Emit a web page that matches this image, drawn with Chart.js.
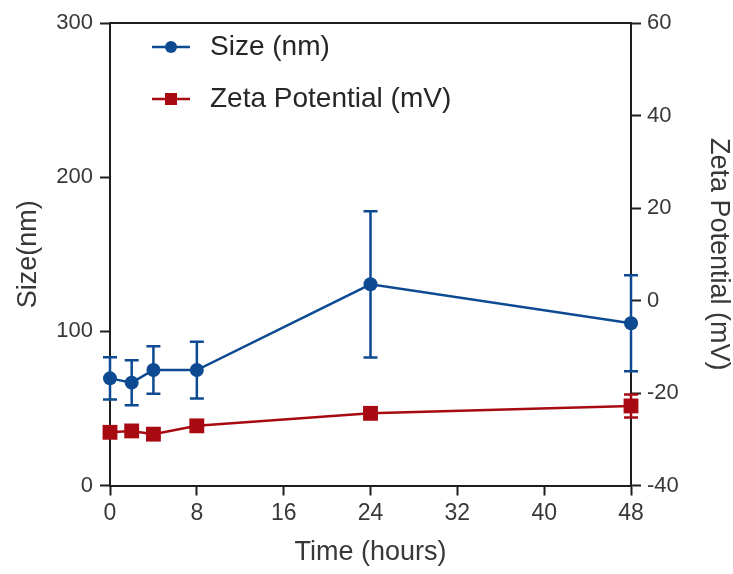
<!DOCTYPE html>
<html>
<head>
<meta charset="utf-8">
<script src="https://cdn.jsdelivr.net/npm/chart.js@4.4.1/dist/chart.umd.min.js"></script>
<style>
  html, body { margin: 0; padding: 0; background: #fff; }
  #wrap { width: 733px; height: 574px; }
</style>
</head>
<body>
<div id="wrap"><canvas id="chart" width="733" height="574"></canvas></div>
<script>
// Data
const timeHours = [0, 2, 4, 8, 24, 48];
const sizeMean = [69.5, 66.7, 74.9, 74.9, 130.5, 105.2];
const sizeErr = [13.7, 14.6, 15.4, 18.4, 47.4, 31.1];
const zetaMean = [-28.5, -28.2, -28.9, -27.1, -24.4, -22.8];
const zetaErr = [0.6, 0.6, 0.6, 0.7, 0.8, 2.5];

const xTicks = [0, 8, 16, 24, 32, 40, 48];
const sizeTicks = [0, 100, 200, 300];
const zetaTicks = [-40, -20, 0, 20, 40, 60];

const BLUE = '#0d4a92';
const RED = '#a80a12';
const AXIS = '#1e1e1e';
const TEXT = '#383838';
const FONT = "'Liberation Sans', Arial, sans-serif";

function toPoints(ys) {
    return timeHours.map((t, i) => ({ x: t, y: ys[i] }));
}

// Error bars drawn under the markers
const errorBars = {
    id: 'errorBars',
    beforeDatasetsDraw(chart) {
        const ctx = chart.ctx;
        const xs = chart.scales.x;
        chart.data.datasets.forEach(ds => {
            const ys = chart.scales[ds.yAxisID];
            ctx.save();
            ctx.strokeStyle = ds.borderColor;
            ctx.lineWidth = 2.5;
            ds.errors.forEach((e, i) => {
                const px = xs.getPixelForValue(timeHours[i]);
                const top = ys.getPixelForValue(ds.means[i] + e);
                const bot = ys.getPixelForValue(ds.means[i] - e);
                ctx.beginPath();
                ctx.moveTo(px, top);
                ctx.lineTo(px, bot);
                ctx.moveTo(px - 7, top);
                ctx.lineTo(px + 7, top);
                ctx.moveTo(px - 7, bot);
                ctx.lineTo(px + 7, bot);
                ctx.stroke();
            });
            ctx.restore();
        });
    }
};

// Top frame line plus the legend inside the plot
const frameAndLegend = {
    id: 'frameAndLegend',
    afterDraw(chart) {
        const ctx = chart.ctx;
        const area = chart.chartArea;
        ctx.save();
        ctx.strokeStyle = AXIS;
        ctx.lineWidth = 2;
        ctx.beginPath();
        ctx.moveTo(area.left - 1, area.top);
        ctx.lineTo(area.right + 1, area.top);
        ctx.stroke();

        // legend
        const rows = [24, 76];
        chart.data.datasets.forEach((ds, i) => {
            const y = area.top + rows[i];
            const x0 = area.left + 42;
            ctx.strokeStyle = ds.borderColor;
            ctx.fillStyle = ds.borderColor;
            ctx.lineWidth = 2.5;
            ctx.beginPath();
            ctx.moveTo(x0, y);
            ctx.lineTo(x0 + 38, y);
            ctx.stroke();
            if (ds.pointStyle === 'rect') {
                ctx.fillRect(x0 + 13, y - 6, 12, 12);
            } else {
                ctx.beginPath();
                ctx.arc(x0 + 19, y, 6, 0, Math.PI * 2);
                ctx.fill();
            }
            ctx.fillStyle = '#262626';
            ctx.font = '28px ' + FONT;
            ctx.textBaseline = 'middle';
            ctx.fillText(ds.label, x0 + 58, y);
        });
        ctx.restore();
    }
};

function axisGrid() {
    return {
        display: true,
        drawOnChartArea: false,
        drawTicks: true,
        tickLength: 10,
        tickWidth: 2,
        tickColor: AXIS
    };
}

new Chart(document.getElementById('chart'), {
    type: 'line',
    data: {
        datasets: [
            {
                label: 'Size (nm)',
                data: toPoints(sizeMean),
                means: sizeMean,
                errors: sizeErr,
                yAxisID: 'ySize',
                borderColor: BLUE,
                backgroundColor: BLUE,
                borderWidth: 2.5,
                pointStyle: 'circle',
                pointRadius: 7,
                pointBorderWidth: 0,
                tension: 0,
                clip: false
            },
            {
                label: 'Zeta Potential (mV)',
                data: toPoints(zetaMean),
                means: zetaMean,
                errors: zetaErr,
                yAxisID: 'yZeta',
                borderColor: RED,
                backgroundColor: RED,
                borderWidth: 2.5,
                pointStyle: 'rect',
                pointRadius: 10.5,
                pointBorderWidth: 0,
                tension: 0,
                clip: false
            }
        ]
    },
    options: {
        responsive: false,
        animation: false,
        layout: { padding: { top: 23, left: 0, right: 0, bottom: 0 } },
        plugins: {
            legend: { display: false },
            tooltip: { enabled: false }
        },
        scales: {
            x: {
                type: 'linear',
                min: 0,
                max: 48,
                afterBuildTicks: s => { s.ticks = xTicks.map(v => ({ value: v })); },
                afterFit: s => { s.height = 88.5; },
                grid: axisGrid(),
                border: { display: true, color: AXIS, width: 2 },
                ticks: { color: TEXT, font: { family: FONT, size: 23 }, padding: 4, autoSkip: false, maxRotation: 0 },
                title: {
                    display: true,
                    text: 'Time (hours)',
                    color: TEXT,
                    font: { family: FONT, size: 27, lineHeight: 1 },
                    padding: { top: 0, bottom: 8 }
                }
            },
            ySize: {
                type: 'linear',
                position: 'left',
                min: 0,
                max: 300,
                afterBuildTicks: s => { s.ticks = sizeTicks.map(v => ({ value: v })); },
                afterFit: s => { s.width = 110; },
                grid: axisGrid(),
                border: { display: true, color: AXIS, width: 2 },
                ticks: { color: TEXT, font: { family: FONT, size: 22 }, padding: 7, autoSkip: false },
                title: {
                    display: true,
                    text: 'Size(nm)',
                    color: TEXT,
                    font: { family: FONT, size: 27, lineHeight: 1 },
                    padding: { top: 15, bottom: 0 }
                }
            },
            yZeta: {
                type: 'linear',
                position: 'right',
                min: -40,
                max: 60,
                afterBuildTicks: s => { s.ticks = zetaTicks.map(v => ({ value: v })); },
                afterFit: s => { s.width = 102; },
                grid: axisGrid(),
                border: { display: true, color: AXIS, width: 2 },
                ticks: { color: TEXT, font: { family: FONT, size: 22 }, padding: 6, autoSkip: false },
                title: {
                    display: true,
                    text: 'Zeta Potential (mV)',
                    color: TEXT,
                    font: { family: FONT, size: 27, lineHeight: 1 },
                    padding: { top: 1, bottom: 0 }
                }
            }
        }
    },
    plugins: [errorBars, frameAndLegend]
});
</script>
</body>
</html>
